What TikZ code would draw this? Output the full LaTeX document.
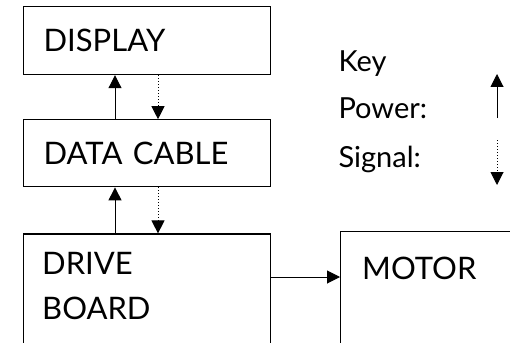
\documentclass[tikz,border=0pt]{standalone}
\usepackage{fontspec}
\setmainfont{Lato}
\usetikzlibrary{arrows.meta,positioning}

\begin{document}
\begin{tikzpicture}[x=1pt,y=-1pt,>={Triangle[length=13pt,width=13pt]},node distance=44pt,
    font=\fontsize{31}{45}\selectfont]
  \tikzset{block/.style={draw,line width=1.2pt,minimum width=247pt,text width=207pt,inner xsep=20pt,align=left},
    power/.style={->,line width=1pt},
    signal/.style={->,line width=1pt,dotted},
    keytext/.style={anchor=base west,font=\fontsize{29}{45}\selectfont}}
  \useasboundingbox (0,0) rectangle (510,342);
  \clip (0,0) rectangle (510,342);
  % boxes
  \node[block,anchor=north west,minimum height=68pt] (display) at (23,6) {DISPLAY};
  \node[block,minimum height=67pt,below=of display] (cable) {DATA CABLE};
  \node[block,minimum width=244pt,minimum height=130pt,below=46pt of cable.south east,anchor=north east,
    label={[anchor=north west,align=left,inner sep=0pt,xshift=19pt,yshift=-19pt]north west:DRIVE\\BOARD}] (drive) {};
  \node[block,anchor=north west,minimum width=190pt,minimum height=130pt,
    label={[anchor=north west,inner sep=0pt,xshift=22pt,yshift=-26pt]north west:MOTOR}] (motor) at (340,231) {};
  % arrow columns
  \coordinate (pwr) at (115,0);
  \coordinate (sig) at (158,0);
  \draw[power] (cable.north -| pwr) -- (display.south -| pwr);
  \draw[signal] (display.south -| sig) -- (cable.north -| sig);
  \draw[power] (drive.north -| pwr) -- (cable.south -| pwr);
  \draw[signal] (cable.south -| sig) -- (drive.north -| sig);
  \coordinate (link) at (0,277);
  \draw[power] (drive.east |- link) -- (motor.west |- link);
  % key
  \node[keytext] (keyhead) at (335,72) {Key};
  \node[keytext] (keypower) at (335,118) {Power:};
  \node[keytext] (keysignal) at (335,167) {Signal:};
  \coordinate (powerfrom) at (497,118);
  \coordinate (powerto) at (497,74);
  \coordinate (signalfrom) at (497,140);
  \coordinate (signalto) at (497,185);
  \draw[power] (powerfrom) -- (powerto);
  \draw[signal] (signalfrom) -- (signalto);
\end{tikzpicture}
\end{document}
